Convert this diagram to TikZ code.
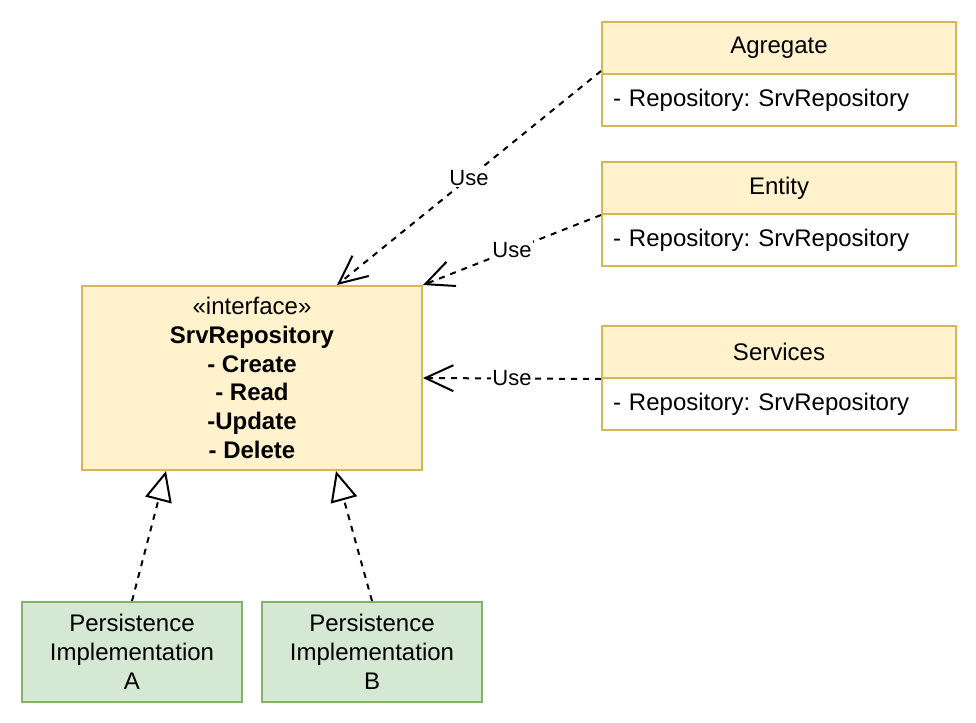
\documentclass[tikz,border=0pt]{standalone}
\usepackage{fontspec}
\setmainfont{Liberation Sans}
\usetikzlibrary{arrows.meta,calc}
\definecolor{yfill}{HTML}{FFF2CC}
\definecolor{ydraw}{HTML}{D6B656}
\definecolor{gfill}{HTML}{D5E8D4}
\definecolor{gdraw}{HTML}{82B366}
\frenchspacing
\begin{document}
\begin{tikzpicture}[x=1pt,y=-1pt,
  ybox/.style={draw=ydraw, fill=yfill, line width=2pt, anchor=north west, inner sep=0pt,
    font=\fontsize{24}{28.8}\selectfont},
  hdr/.style={ybox, minimum width=354pt, minimum height=52pt},
  bodyb/.style={ybox, fill=white, minimum height=52pt, text width=332pt, inner xsep=11pt, align=left},
  gbox/.style={draw=gdraw, fill=gfill, line width=2pt, anchor=north west, inner sep=0pt,
    minimum width=220pt, minimum height=100pt, align=center, font=\fontsize{24}{28.8}\selectfont},
  usedep/.style={line width=2pt, dash pattern=on 6pt off 6pt, -{Straight Barb[length=28pt,width=26pt,line width=2pt]}},
  impl/.style={line width=2pt, dash pattern=on 6pt off 6pt, -{Triangle[open,length=30pt,width=27pt,line width=2pt]}},
  lbl/.style={fill=white, inner sep=1pt, font=\fontsize{22}{26}\selectfont}
]
\path[use as bounding box] (0,0) rectangle (976,722);

\node[hdr] (agrh) at (601,21) {Agregate};
\node[bodyb] (agrb) at (601,73) {- Repository: SrvRepository};
\node[hdr] (enth) at (601,161) {Entity};
\node[bodyb] (entb) at (601,213) {- Repository: SrvRepository};
\node[hdr] (srvh) at (601,325) {Services};
\node[bodyb] (srvb) at (601,377) {- Repository: SrvRepository};

\node[ybox, minimum width=340pt, minimum height=184pt, align=center] (ifc) at (81,285)
  {«interface»\\\bfseries SrvRepository\\\bfseries - Create\\\bfseries - Read\\\bfseries -Update\\\bfseries - Delete};

\node[gbox] (pa) at (21,601) {Persistence\\Implementation\\A};
\node[gbox] (pb) at (261,601) {Persistence\\Implementation\\B};

\coordinate (agrs) at ($(agrh.south west)+(0,-4)$);
\coordinate (ifcn) at ($(ifc.north west)+(256,0)$);
\coordinate (ifca) at ($(ifc.south west)+(85,0)$);
\coordinate (ifcb) at ($(ifc.south west)+(255,0)$);

\draw[usedep] (agrs) -- node[lbl, pos=0.5] {Use} (ifcn);
\draw[usedep] (enth.south west) -- node[lbl, pos=0.5] {Use} (ifc.north east);
\draw[usedep] (srvh.south west) -- node[lbl, pos=0.5] {Use} (ifc.east);

\draw[impl] (pa.north) -- (ifca);
\draw[impl] (pb.north) -- (ifcb);
\end{tikzpicture}
\end{document}
